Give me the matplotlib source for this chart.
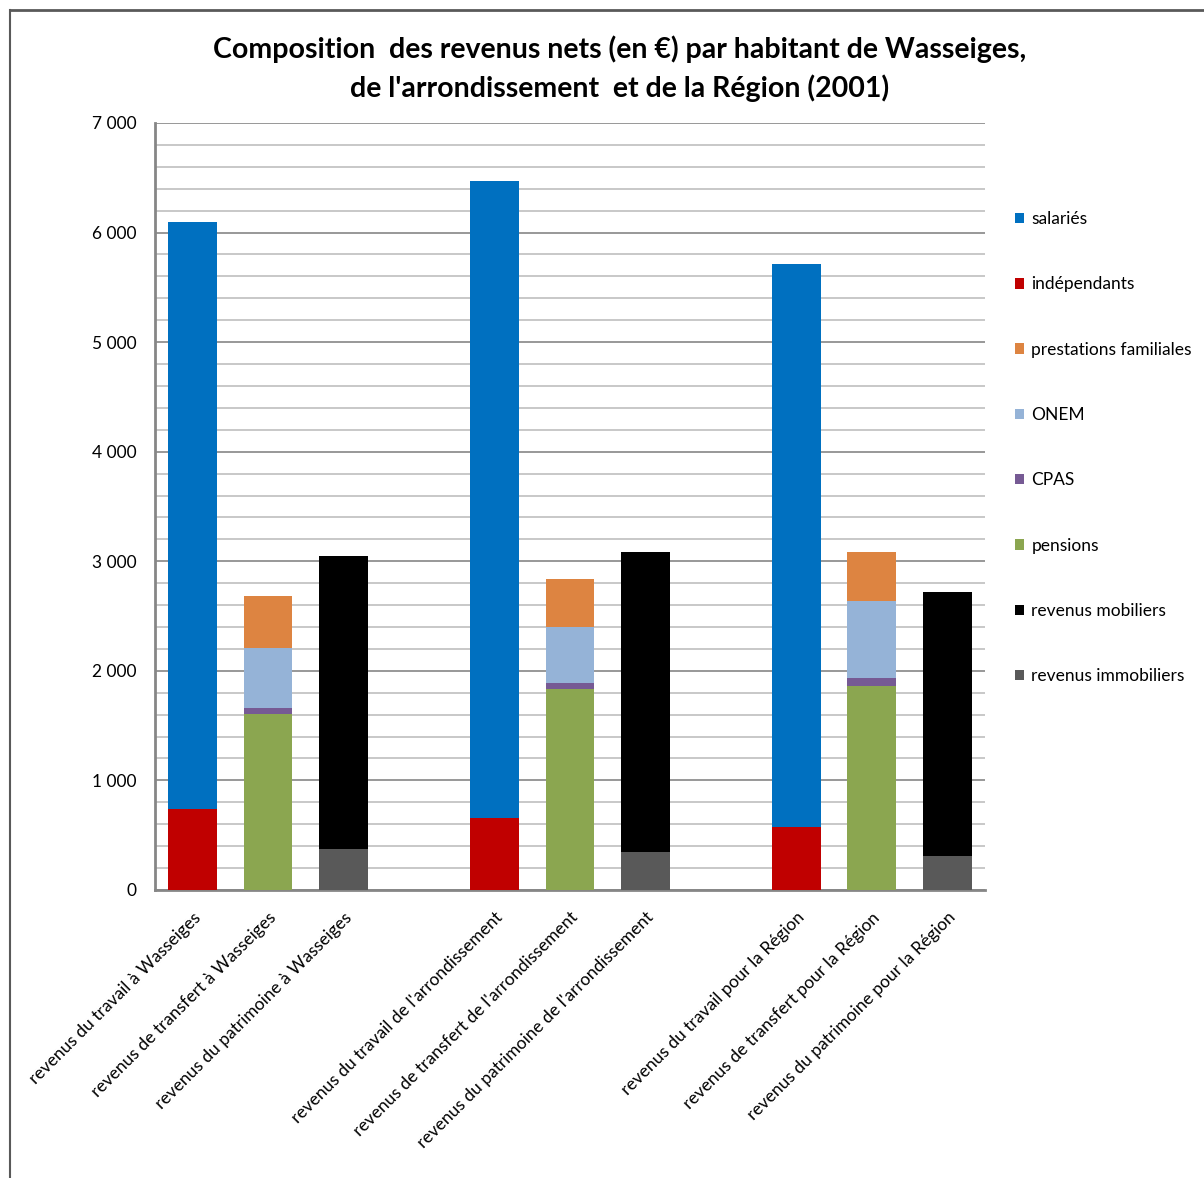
#!/usr/bin/env python3

import numpy as np

import matplotlib
matplotlib.use('AGG')
from matplotlib import pyplot as plt
from matplotlib.patches import Patch
from matplotlib.lines import Line2D
from matplotlib.ticker import MultipleLocator, FuncFormatter

plt.rcParams['font.family'] = ['Lato', 'DejaVu Sans']

# categories (empty strings are the gaps between the three groups)
categories = [
    "revenus du travail à Wasseiges",
    "revenus de transfert à Wasseiges",
    "revenus du patrimoine à Wasseiges",
    "",
    "revenus du travail de l'arrondissement",
    "revenus de transfert de l'arrondissement",
    "revenus du patrimoine de l'arrondissement",
    "",
    "revenus du travail pour la Région",
    "revenus de transfert pour la Région",
    "revenus du patrimoine pour la Région",
]

# series values, bottom to top of the stack
revenus_immobiliers = [0, 0, 372, 0, 0, 0, 347, 0, 0, 0, 308]
revenus_mobiliers = [0, 0, 2673, 0, 0, 0, 2734, 0, 0, 0, 2408]
pensions = [0, 1607, 0, 0, 0, 1833, 0, 0, 0, 1860, 0]
cpas = [0, 52, 0, 0, 0, 55, 0, 0, 0, 76, 0]
onem = [0, 545, 0, 0, 0, 511, 0, 0, 0, 701, 0]
prestations_familiales = [0, 481, 0, 0, 0, 436, 0, 0, 0, 444, 0]
independants = [743, 0, 0, 0, 661, 0, 0, 0, 573, 0, 0]
salaries = [5357, 0, 0, 0, 5811, 0, 0, 0, 5141, 0, 0]

series = [
    ("revenus immobiliers", revenus_immobiliers, "#595959"),
    ("revenus mobiliers", revenus_mobiliers, "#000000"),
    ("pensions", pensions, "#8BA650"),
    ("CPAS", cpas, "#765A94"),
    ("ONEM", onem, "#95B3D7"),
    ("prestations familiales", prestations_familiales, "#DD8441"),
    ("indépendants", independants, "#C00000"),
    ("salariés", salaries, "#0070C0"),
]


def main(outfile):
    fig = plt.figure(figsize=(12.04, 11.78), dpi=100)
    ax = fig.add_axes([0.1287, 0.2445, 0.8181 - 0.1287, 0.8956 - 0.2445])

    x = np.arange(len(categories))
    bottom = np.zeros(len(categories))
    for name, vals, color in series:
        vals = np.array(vals, dtype=float)
        ax.bar(x, vals, width=0.645, bottom=bottom, color=color,
               edgecolor='none', zorder=3)
        bottom += vals

    ax.set_xlim(-0.5, len(categories) - 0.5)
    ax.set_ylim(0, 7000)
    ax.yaxis.set_major_locator(MultipleLocator(1000))
    ax.yaxis.set_minor_locator(MultipleLocator(200))
    ax.yaxis.set_major_formatter(
        FuncFormatter(lambda v, p: f"{int(v):,}".replace(",", " ")))
    ax.grid(axis='y', which='major', color='#868686', linewidth=1.2, zorder=0)
    ax.grid(axis='y', which='minor', color='#BFBFBF', linewidth=1.2, zorder=0)
    ax.tick_params(axis='y', which='both', length=0, labelsize=12.5, pad=13)
    ax.tick_params(axis='x', length=0, pad=14)

    ax.set_xticks(x)
    ax.set_xticklabels(categories, rotation=45, ha='right',
                       rotation_mode='anchor', fontsize=12.5)

    for side in ('top', 'right'):
        ax.spines[side].set_visible(False)
    for side in ('left', 'bottom'):
        ax.spines[side].set_color('#868686')
        ax.spines[side].set_linewidth(2)

    fig.suptitle("Composition  des revenus nets (en €) par habitant de Wasseiges,\n"
                 "de l'arrondissement  et de la Région (2001)",
                 x=0.515, y=0.97, fontsize=20.5, fontweight='bold',
                 linespacing=1.5)

    handles = [Patch(facecolor=c, edgecolor='none', label=n)
               for n, v, c in reversed(series)]
    fig.legend(handles=handles, loc='upper left',
               bbox_to_anchor=(0.83, 0.834), frameon=False, fontsize=12.5,
               handlelength=0.55, handleheight=0.55, handletextpad=0.4,
               labelspacing=2.84)

    # outer chart frame
    fig.add_artist(Line2D([0.0085, 0.0085], [0.0, 0.9915], color='#595959',
                          linewidth=1.5, transform=fig.transFigure))
    fig.add_artist(Line2D([0.0085, 1.0], [0.9915, 0.9915], color='#595959',
                          linewidth=2, transform=fig.transFigure))

    fig.savefig(outfile, dpi=100)


if __name__ == '__main__':
    main('out.png')
